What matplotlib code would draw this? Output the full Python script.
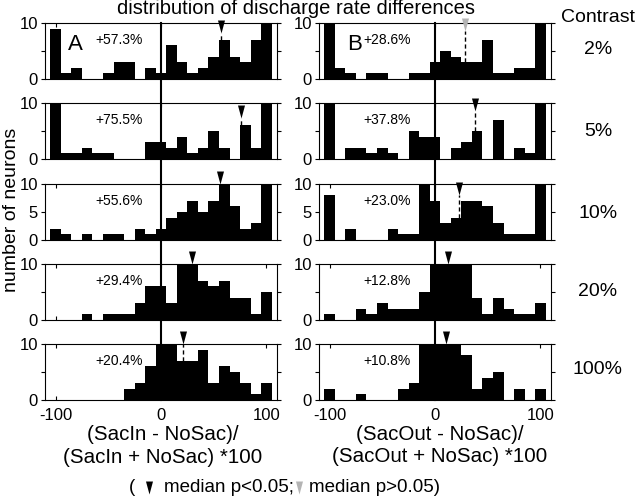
import numpy as np
import matplotlib
matplotlib.use('Agg')
import matplotlib.pyplot as plt
from matplotlib.path import Path
from matplotlib.lines import Line2D

plt.rcParams['font.family'] = ['Liberation Sans', 'DejaVu Sans']

# ---------------- data ----------------
bin_centers = np.arange(-100, 101, 10)
contrasts = ['2%', '5%', '10%', '20%', '100%']

counts_A = [
    [9, 1, 2, 0, 0, 1, 3, 3, 0, 2, 1, 6, 3, 1, 2, 4, 7, 4, 3, 7, 10],
    [10, 1, 1, 2, 1, 1, 0, 0, 0, 3, 3, 2, 4, 1, 2, 5, 2, 0, 6, 2, 10],
    [2, 1, 0, 1, 0, 1, 1, 0, 2, 1, 2, 4, 5, 7, 5, 7, 10, 6, 2, 3, 10],
    [0, 0, 0, 1, 0, 1, 1, 1, 3, 6, 6, 3, 10, 10, 7, 6, 7, 4, 4, 1, 5],
    [0, 0, 0, 0, 0, 0, 0, 2, 3, 6, 10, 10, 7, 7, 9, 3, 6, 5, 3, 1, 3],
]
counts_B = [
    [10, 2, 1, 0, 1, 1, 0, 0, 1, 1, 3, 5, 4, 3, 3, 7, 1, 1, 2, 2, 10],
    [10, 0, 2, 2, 1, 2, 1, 0, 5, 4, 4, 0, 2, 3, 5, 0, 7, 0, 2, 1, 10],
    [8, 0, 2, 0, 0, 0, 2, 1, 1, 10, 7, 3, 4, 7, 7, 6, 3, 1, 1, 1, 10],
    [1, 0, 0, 2, 1, 3, 2, 2, 2, 5, 10, 10, 10, 10, 4, 1, 4, 2, 1, 1, 3],
    [2, 0, 0, 1, 0, 0, 0, 2, 3, 10, 10, 10, 10, 8, 2, 4, 5, 0, 2, 0, 2],
]
median_A = [57.3, 75.5, 55.6, 29.4, 20.4]
median_B = [28.6, 37.8, 23.0, 12.8, 10.8]
signif_A = [True, True, True, True, True]
signif_B = [False, True, True, True, True]
marker_tip_A = [8.2, 7.4, 10, 10, 10]
marker_tip_B = [8.5, 8.5, 8.1, 10, 10]

xticks = [-100, 0, 100]
xticklabels = ['-100', '0', '100']

# ---------------- layout ----------------
W, H = 640, 496
fig = plt.figure(figsize=(6.4, 4.96), dpi=100)
tops = [23, 103, 184, 264, 344]
ah = 56
col_left = [45, 319]
aw = 232
XMIN, XMAX = -110, 110

def frac(l, t, w, h):
    return [l / W, 1 - (t + h) / H, w / W, h / H]

tri = Path([(-0.27, 1.0), (0.27, 1.0), (0.0, 0.0), (-0.27, 1.0)],
           [Path.MOVETO, Path.LINETO, Path.LINETO, Path.CLOSEPOLY])
tri_ms = 18.7
GRAY = '#b4b4b4'

cols = [(counts_A, median_A, signif_A, marker_tip_A, 'A', -88.7, -62),
        (counts_B, median_B, signif_B, marker_tip_B, 'B', -83, -68)]

for c, (counts, meds, sigs, tips, letter, letx, pctx) in enumerate(cols):
    for r in range(5):
        ax = fig.add_axes(frac(col_left[c], tops[r], aw, ah))
        cnt = np.array(counts[r])
        ax.bar(bin_centers, cnt, width=10, color='black', linewidth=0)
        ax.set_xlim(XMIN, XMAX)
        ax.set_ylim(0, 10)
        ax.set_xticks(xticks)
        if r == 4:
            ax.set_xticklabels(xticklabels, fontsize=12)
        else:
            ax.set_xticklabels([])
        ax.set_yticks([0, 5, 10])
        ax.set_yticklabels(['0', '5' if r == 2 else '', '10'], fontsize=12)
        ax.tick_params(axis='x', direction='in', top=True, length=3, pad=6)
        ax.tick_params(axis='y', direction='out', right=True, length=3, pad=2)
        for s in ax.spines.values():
            s.set_linewidth(0.8)
        # median marker
        m = meds[r]
        tip = tips[r]
        idx = int(np.clip(np.round((m - bin_centers[0]) / 10), 0, len(bin_centers) - 1))
        bar_h = min(cnt[idx], 10)
        if tip > bar_h:
            ax.plot([m, m], [bar_h, tip], color='black', lw=1.0,
                    ls=(0, (3, 2)), clip_on=False, zorder=4)
        ax.plot([m], [tip], marker=tri, ms=tri_ms, mew=0,
                color='black' if sigs[r] else GRAY, clip_on=False, zorder=5)
        ax.text(pctx, 7.0, f'+{m:.1f}%', fontsize=10, va='center', ha='left')
        if r == 0:
            ax.text(letx, 6.1, letter, fontsize=16, va='center', ha='left')

    # continuous zero line through the column
    x0 = (col_left[c] + (0 - XMIN) / (XMAX - XMIN) * aw) / W
    fig.add_artist(Line2D([x0, x0], [1 - tops[0] / H, 1 - (tops[4] + ah) / H],
                          color='black', lw=1.5, transform=fig.transFigure, zorder=10))

# ---------------- text ----------------
fig.text(296 / W, 1 - 8 / H, 'distribution of discharge rate differences',
         fontsize=14.5, ha='center', va='center')
fig.text(598 / W, 1 - 18 / H, 'Contrast', fontsize=14, ha='center', va='center')
for lab, yc in zip(contrasts, [50, 131, 213, 291, 370]):
    fig.text(598 / W, 1 - yc / H, lab, fontsize=14, ha='center', va='center')
fig.text(12 / W, 1 - 210 / H, 'number of neurons', fontsize=14, rotation=90,
         ha='center', va='center')
fig.text(162.5 / W, 1 - 435 / H, '(SacIn - NoSac)/', fontsize=14.8, ha='center', va='center')
fig.text(162.5 / W, 1 - 457.5 / H, '(SacIn + NoSac) *100', fontsize=14.8, ha='center', va='center')
fig.text(440 / W, 1 - 434 / H, '(SacOut - NoSac)/', fontsize=14.8, ha='center', va='center')
fig.text(440 / W, 1 - 456 / H, '(SacOut + NoSac) *100', fontsize=14.8, ha='center', va='center')

# legend line
ly = 1 - 488 / H
tip_y = 1 - 494 / H
fig.text(132.5 / W, ly, '(', fontsize=13.5, ha='center', va='center')
fig.add_artist(Line2D([148.7 / W], [tip_y], marker=tri, ms=tri_ms, mew=0, color='black',
                      transform=fig.transFigure))
fig.text(163.6 / W, ly, 'median p<0.05;', fontsize=13.5, ha='left', va='center')
fig.add_artist(Line2D([299 / W], [tip_y], marker=tri, ms=tri_ms, mew=0, color=GRAY,
                      transform=fig.transFigure))
fig.text(309 / W, ly, 'median p>0.05)', fontsize=13.5, ha='left', va='center')

fig.savefig('out.png', dpi=100)
